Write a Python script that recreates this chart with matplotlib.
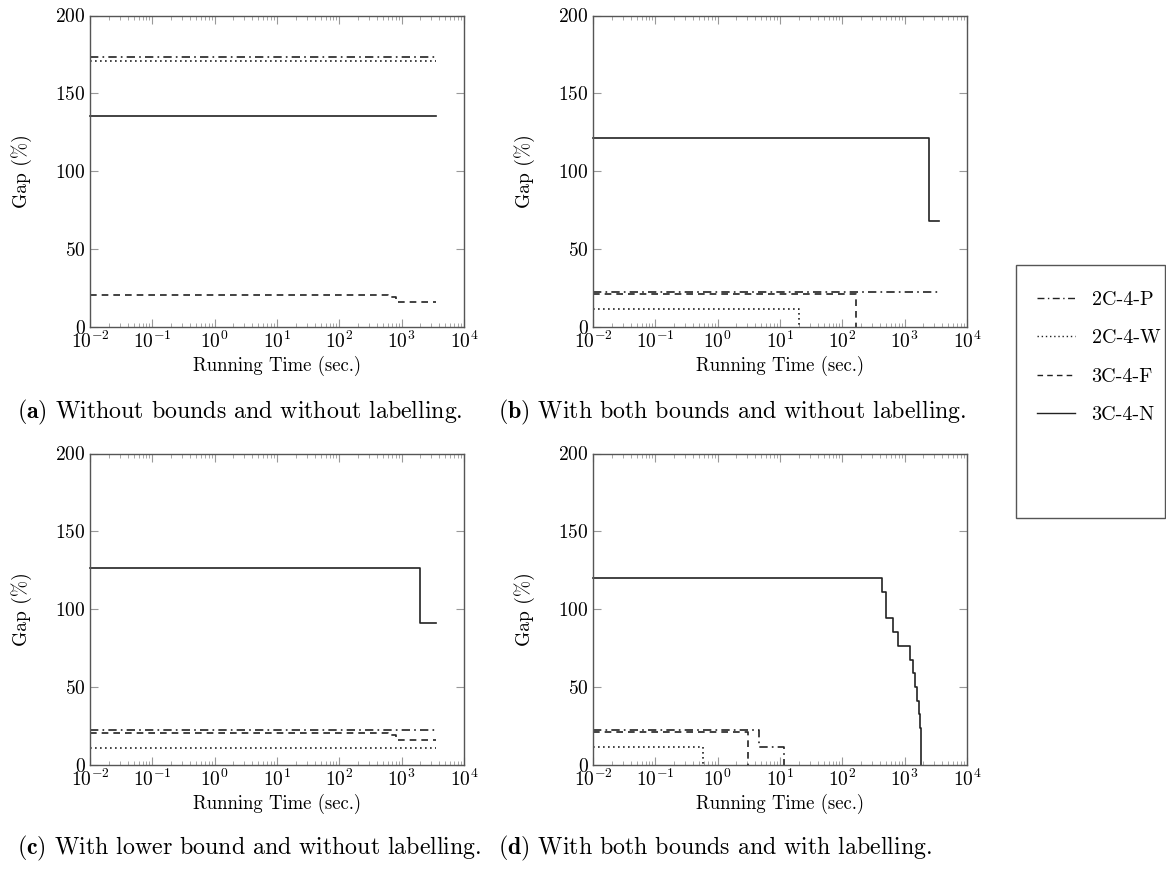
import matplotlib
matplotlib.use("Agg")
import matplotlib.pyplot as plt
from matplotlib.ticker import LogLocator, FixedLocator, NullFormatter
from matplotlib.lines import Line2D
from matplotlib.patches import Rectangle

plt.rcParams['font.family'] = ['cmr10', 'DejaVu Serif']
plt.rcParams['mathtext.fontset'] = 'cm'
plt.rcParams['axes.formatter.use_mathtext'] = True

series_names = ["2C-4-P", "2C-4-W", "3C-4-F", "3C-4-N"]

# Panel (a)
a_P_t = [0.01, 3600]; a_P_g = [173, 173]
a_W_t = [0.01, 3600]; a_W_g = [171, 171]
a_F_t = [0.01, 600, 800, 3600]; a_F_g = [20.5, 19, 15.6, 15.6]
a_N_t = [0.01, 3600]; a_N_g = [135.5, 135.5]

# Panel (b)
b_P_t = [0.01, 3600]; b_P_g = [22.5, 22.5]
b_W_t = [0.01, 20]; b_W_g = [11, 0]
b_F_t = [0.01, 165]; b_F_g = [21, 0]
b_N_t = [0.01, 2450, 3600]; b_N_g = [121, 68, 68]

# Panel (c)
c_P_t = [0.01, 3600]; c_P_g = [22, 22]
c_W_t = [0.01, 3600]; c_W_g = [10.5, 10.5]
c_F_t = [0.01, 600, 800, 3600]; c_F_g = [20.5, 19, 15.6, 15.6]
c_N_t = [0.01, 2000, 3600]; c_N_g = [126.5, 91, 91]

# Panel (d)
d_P_t = [0.01, 4.6, 11.8]; d_P_g = [22, 11, 0]
d_W_t = [0.01, 0.59]; d_W_g = [11, 0]
d_F_t = [0.01, 3.1]; d_F_g = [21, 0]
d_N_t = [0.01, 437, 500, 660, 790, 1200, 1350, 1490, 1590, 1690, 1790, 1830]
d_N_g = [120, 111, 94, 85, 76, 67.5, 58.6, 50, 41, 32.4, 23.4, 0]

captions = [r"$\mathbf{(a)}$ Without bounds and without labelling.",
            r"$\mathbf{(b)}$ With both bounds and without labelling.",
            r"$\mathbf{(c)}$ With lower bound and without labelling.",
            r"$\mathbf{(d)}$ With both bounds and with labelling."]

panels = [
    [(a_P_t, a_P_g), (a_W_t, a_W_g), (a_F_t, a_F_g), (a_N_t, a_N_g)],
    [(b_P_t, b_P_g), (b_W_t, b_W_g), (b_F_t, b_F_g), (b_N_t, b_N_g)],
    [(c_P_t, c_P_g), (c_W_t, c_W_g), (c_F_t, c_F_g), (c_N_t, c_N_g)],
    [(d_P_t, d_P_g), (d_W_t, d_W_g), (d_F_t, d_F_g), (d_N_t, d_N_g)],
]

styles = [(0, (5, 2.5, 1, 2.5)), (0, (1, 2)), (0, (4, 3)), '-']
line_color = '#222222'
lw = 1.2

W, H = 1166, 875
fig = plt.figure(figsize=(W / 100, H / 100), dpi=100)

boxes = [(90, 326.5, 374, 311), (593, 326.5, 374, 311),
         (90, 764.5, 374, 311), (593, 764.5, 374, 311)]
cap_pos = [(17, 412), (498, 412), (17, 848), (498, 848)]

for i, (l, b, w, h) in enumerate(boxes):
    ax = fig.add_axes([l / W, (H - b) / H, w / W, h / H])
    for (t, g), ls in zip(panels[i], styles):
        ax.step(t, g, where='post', color=line_color, lw=lw, linestyle=ls,
                clip_on=False)
    ax.set_xscale('log')
    ax.set_xlim(1e-2, 1e4)
    ax.set_ylim(0, 200)
    ax.xaxis.set_major_locator(LogLocator(base=10, numticks=10))
    ax.xaxis.set_minor_locator(LogLocator(base=10, subs=range(2, 10), numticks=100))
    ax.xaxis.set_minor_formatter(NullFormatter())
    ax.yaxis.set_major_locator(FixedLocator([0, 50, 100, 150, 200]))
    ax.tick_params(which='both', direction='in', top=True, right=True,
                   color='#999999', labelsize=14, pad=3)
    ax.tick_params(which='major', length=6, width=0.8)
    ax.tick_params(which='minor', length=3, width=0.6)
    for s in ax.spines.values():
        s.set_color('#555555')
        s.set_linewidth(1.0)
    ax.set_xlabel("Running Time (sec.)", fontsize=13.5, labelpad=3)
    ax.set_ylabel("Gap (%)", fontsize=14, labelpad=17)
    cx, cy = cap_pos[i]
    fig.text(cx / W, 1 - cy / H, captions[i], fontsize=17.2, ha='left', va='center')

# legend frame (taller box as in the reference)
fig.patches.append(Rectangle((1016 / W, 1 - 518 / H), 149 / W, (518 - 265) / H,
                             transform=fig.transFigure, fill=False,
                             edgecolor='#555555', linewidth=1.0))

handles = [Line2D([0], [0], color=line_color, lw=1.0, linestyle=ls) for ls in styles]
leg = fig.legend(handles, series_names, loc='upper left',
                 bbox_to_anchor=(1016 / W, 1 - 270 / H), borderaxespad=0,
                 fontsize=14.5, frameon=False, handlelength=1.9,
                 labelspacing=1.0, borderpad=1.05, handletextpad=0.8)

fig.savefig("out.png", dpi=100)
